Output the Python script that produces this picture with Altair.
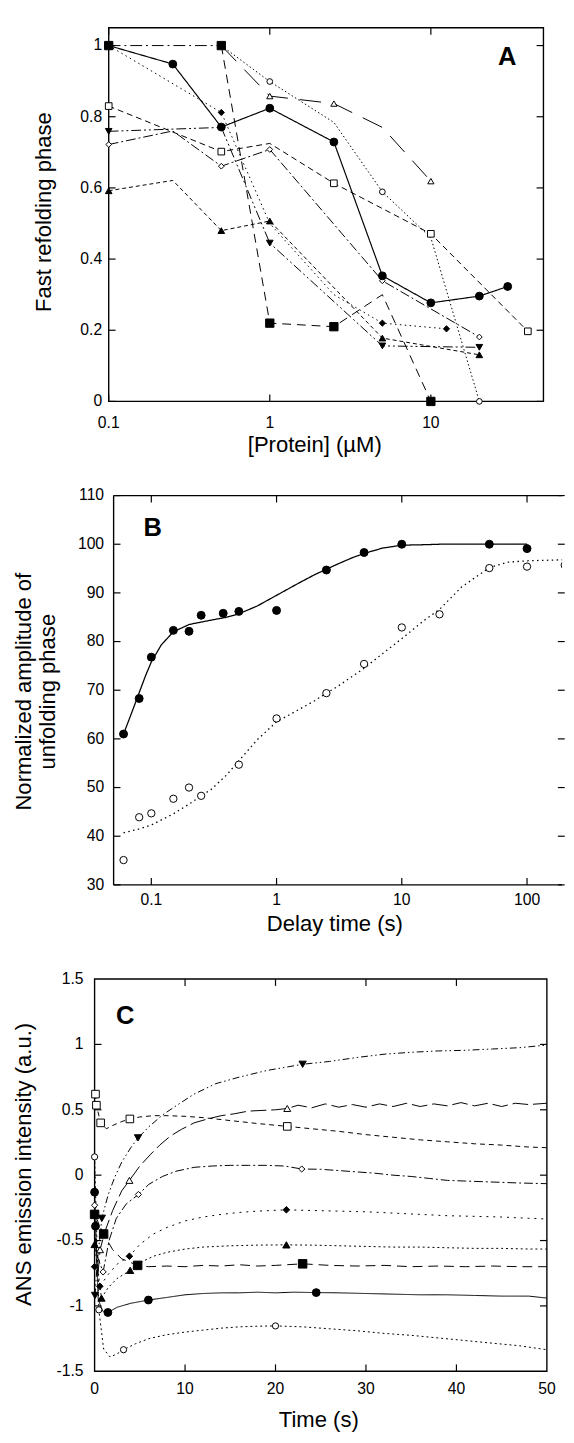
import altair as alt
import pandas as pd

FONT = "Liberation Sans"
TICK = 7

# ================= Panel A : fast refolding phase vs [protein] =================
A_circle_x = [0.1, 0.25, 0.5, 1, 2.5, 5, 10, 20, 30]
A_circle_y = [1.0, 0.948, 0.771, 0.824, 0.729, 0.353, 0.277, 0.296, 0.323]
A_circle_mk = [0, 1, 2, 3, 4, 5, 6, 7, 8]
A_square_x = [0.1, 0.5, 1, 2.5, 5, 10]
A_square_y = [1.0, 1.0, 0.22, 0.21, 0.30, 0.0]
A_square_mk = [0, 1, 2, 3, 5]
A_ocirc_x = [0.5, 1, 2.5, 5, 10, 20]
A_ocirc_y = [1.0, 0.899, 0.784, 0.589, 0.46, 0.0]
A_ocirc_mk = [1, 3, 5]
A_otri_x = [0.5, 1, 2.5, 5, 10]
A_otri_y = [1.0, 0.858, 0.837, 0.77, 0.619]
A_otri_mk = [1, 2, 4]
A_osq_x = [0.1, 0.5, 1, 2.5, 10, 40]
A_osq_y = [0.83, 0.702, 0.725, 0.613, 0.471, 0.197]
A_osq_mk = [0, 1, 3, 4, 5]
A_odia_x = [0.1, 0.25, 0.5, 1, 5, 20]
A_odia_y = [0.722, 0.76, 0.661, 0.708, 0.339, 0.181]
A_odia_mk = [0, 2, 3, 4, 5]
A_dtri_x = [0.1, 0.5, 1, 5, 20]
A_dtri_y = [0.759, 0.77, 0.445, 0.156, 0.152]
A_dtri_mk = [0, 2, 3, 4]
A_utri_x = [0.1, 0.25, 0.5, 1, 5, 20]
A_utri_y = [0.592, 0.621, 0.48, 0.507, 0.178, 0.131]
A_utri_mk = [0, 2, 3, 4, 5]
A_fdia_x = [0.1, 0.5, 1, 2.5, 5, 12.5]
A_fdia_y = [1.0, 0.812, 0.5, 0.3, 0.22, 0.204]
A_fdia_mk = [1, 4, 5]

A_xticks = [0.1, 1, 10]
A_xlabels = ["0.1", "1", "10"]
A_yticks = [0, 0.2, 0.4, 0.6, 0.8, 1.0]
A_ylabels = ["0", "0.2", "0.4", "0.6", "0.8", "1"]

# ================= Panel B : amplitude of unfolding phase vs delay =================
B_fill_x = [0.06, 0.08, 0.1, 0.15, 0.2, 0.25, 0.375, 0.5, 1, 2.5, 5, 10, 50, 100]
B_fill_y = [61.0, 68.3, 76.8, 82.3, 82.1, 85.4, 85.8, 86.2, 86.4, 94.7, 98.3, 100.0, 100.0, 99.1]
B_open_x = [0.06, 0.08, 0.1, 0.15, 0.2, 0.25, 0.5, 1, 2.5, 5, 10, 20, 50, 100, 200]
B_open_y = [35.1, 43.9, 44.7, 47.7, 50.0, 48.3, 54.7, 64.2, 69.4, 75.4, 82.9, 85.6, 95.1, 95.4, 95.7]
B_fitF_x = [0.06, 0.07, 0.08, 0.09, 0.1, 0.12, 0.15, 0.2, 0.25, 0.3, 0.4, 0.5, 0.7, 1, 1.5, 2, 3, 4, 5, 7, 10, 15, 20, 30, 50, 100]
B_fitF_y = [61.0, 65.5, 69.5, 73.0, 75.8, 79.3, 82.0, 83.5, 84.0, 84.4, 85.0, 85.7, 87.3, 89.5, 92.0, 93.7, 95.8, 97.2, 98.1, 99.2, 99.8, 99.9, 100.0, 100.0, 100.0, 100.0]
B_fitO_x = [0.06, 0.08, 0.1, 0.15, 0.2, 0.25, 0.3, 0.4, 0.5, 0.7, 1, 1.5, 2, 2.5, 3, 5, 7, 10, 15, 20, 30, 50, 70, 100, 200]
B_fitO_y = [40.7, 41.5, 42.3, 44.6, 46.6, 48.3, 49.6, 52.6, 55.5, 59.8, 63.5, 66.0, 67.8, 69.4, 70.6, 74.5, 77.5, 80.6, 84.3, 86.6, 91.2, 95.2, 96.3, 96.6, 96.8]

B_xticks = [0.1, 1, 10, 100]
B_xlabels = ["0.1", "1", "10", "100"]
B_yticks = [30, 40, 50, 60, 70, 80, 90, 100, 110]
B_ylabels = ["30", "40", "50", "60", "70", "80", "90", "100", "110"]

# ================= Panel C : ANS emission vs time =================
C_dn_t = [0.05, 0.3, 0.8, 1.5, 2.2, 3.0, 4.0, 4.8, 6.0, 7.5, 9.0, 11.0, 13.4, 16.0, 19.0, 23.0, 26.0, 29.0, 32.0, 35.0, 38.0, 41.0, 44.0, 47.0, 50.0]
C_dn_v = [-0.92, -0.66, -0.33, -0.15, -0.02, 0.10, 0.21, 0.285, 0.37, 0.46, 0.53, 0.62, 0.70, 0.75, 0.80, 0.848, 0.87, 0.90, 0.925, 0.94, 0.95, 0.955, 0.965, 0.975, 0.995]
C_dn_mk = [0, 2, 7, 15]
C_ut_t = [0.1, 0.35, 0.6, 1.2, 2.0, 3.0, 3.85, 5.0, 6.2, 7.2, 8.4, 9.6, 11.0, 12.5, 14.0, 15.5, 17.0, 18.5, 20.0, 21.3, 22.5, 24.0, 25.5, 27.0, 28.5, 30.0, 31.5, 33.0, 34.5, 36.0, 37.5, 39.0, 40.5, 42.0, 43.5, 45.0, 46.5, 48.0, 50.0]
C_ut_v = [-0.48, -0.78, -0.57, -0.42, -0.27, -0.12, -0.04, 0.07, 0.16, 0.23, 0.30, 0.35, 0.40, 0.43, 0.455, 0.47, 0.49, 0.495, 0.50, 0.51, 0.535, 0.515, 0.545, 0.52, 0.54, 0.52, 0.545, 0.525, 0.55, 0.525, 0.545, 0.53, 0.555, 0.53, 0.55, 0.525, 0.55, 0.54, 0.55]
C_ut_mk = [2, 6, 19]
C_os_t = [0.1, 0.2, 0.67, 1.3, 2.0, 3.0, 3.9, 5.0, 6.5, 8.0, 10.0, 12.0, 14.0, 16.0, 18.0, 21.3, 24.0, 27.0, 30.0, 33.0, 36.0, 39.0, 42.0, 45.0, 48.0, 50.0]
C_os_v = [0.62, 0.535, 0.40, 0.355, 0.38, 0.41, 0.43, 0.445, 0.455, 0.455, 0.45, 0.44, 0.425, 0.41, 0.395, 0.373, 0.355, 0.335, 0.31, 0.29, 0.27, 0.255, 0.24, 0.23, 0.215, 0.21]
C_os_mk = [0, 1, 2, 6, 15]
C_od_t = [0, 0.3, 0.94, 1.6, 2.4, 3.5, 4.84, 6.0, 7.5, 9.0, 11.0, 13.0, 15.0, 17.0, 19.0, 21.0, 22.9, 25.0, 27.0, 29.0, 31.0, 33.0, 35.0, 37.0, 39.0, 41.0, 43.0, 45.0, 47.0, 50.0]
C_od_v = [-0.23, -0.62, -0.74, -0.50, -0.33, -0.22, -0.148, -0.07, -0.01, 0.03, 0.06, 0.07, 0.075, 0.075, 0.075, 0.07, 0.047, 0.045, 0.035, 0.025, 0.015, 0.0, -0.01, -0.025, -0.04, -0.045, -0.05, -0.055, -0.06, -0.065]
C_od_mk = [0, 2, 6, 16]
C_fd_t = [0, 0.58, 1.5, 2.5, 3.85, 5.0, 6.5, 8.0, 10.0, 12.0, 14.0, 16.0, 18.0, 21.2, 24.0, 27.0, 30.0, 33.0, 36.0, 39.0, 42.0, 45.0, 48.0, 50.0]
C_fd_v = [-0.70, -0.85, -0.76, -0.68, -0.62, -0.53, -0.45, -0.40, -0.35, -0.32, -0.30, -0.285, -0.275, -0.265, -0.27, -0.275, -0.28, -0.29, -0.30, -0.31, -0.315, -0.32, -0.33, -0.335]
C_fd_mk = [0, 1, 4, 13]
C_ft_t = [0, 0.76, 1.5, 2.5, 3.93, 5.0, 6.5, 8.0, 10.0, 12.0, 15.0, 18.0, 21.2, 24.0, 27.0, 30.0, 33.0, 36.0, 39.0, 42.0, 45.0, 48.0, 50.0]
C_ft_v = [-0.53, -0.94, -0.86, -0.79, -0.728, -0.67, -0.62, -0.59, -0.565, -0.55, -0.54, -0.535, -0.533, -0.535, -0.54, -0.545, -0.55, -0.55, -0.555, -0.56, -0.56, -0.565, -0.565]
C_ft_mk = [0, 1, 4, 12]
C_fs_t = [0, 0.4, 1.0, 2.0, 3.0, 4.76, 6.0, 8.0, 10.0, 12.0, 14.0, 16.0, 18.0, 20.0, 23.0, 26.0, 29.0, 32.0, 35.0, 38.0, 41.0, 44.0, 47.0, 50.0]
C_fs_v = [-0.30, -0.36, -0.45, -0.57, -0.64, -0.69, -0.70, -0.695, -0.70, -0.69, -0.695, -0.685, -0.695, -0.69, -0.678, -0.69, -0.695, -0.69, -0.70, -0.695, -0.70, -0.695, -0.70, -0.70]
C_fs_mk = [0, 2, 5, 14]
C_fc_t = [0, 0.1, 0.4, 0.9, 1.47, 2.5, 4.0, 5.95, 8.0, 10.0, 12.0, 14.0, 16.0, 18.0, 20.0, 22.0, 24.5, 27.0, 30.0, 33.0, 36.0, 39.0, 42.0, 45.0, 48.0, 50.0]
C_fc_v = [-0.13, -0.39, -0.95, -1.04, -1.05, -1.01, -0.98, -0.955, -0.935, -0.915, -0.905, -0.9, -0.9, -0.895, -0.9, -0.895, -0.898, -0.9, -0.905, -0.91, -0.915, -0.915, -0.92, -0.925, -0.925, -0.94]
C_fc_mk = [0, 1, 4, 7, 16]
C_oc_t = [0, 0.47, 1.0, 1.7, 2.4, 3.2, 4.5, 6.0, 8.0, 10.0, 12.0, 14.0, 16.0, 18.0, 20.0, 23.0, 26.0, 29.0, 32.0, 35.0, 38.0, 41.0, 44.0, 47.0, 50.0]
C_oc_v = [0.14, -1.03, -1.33, -1.39, -1.37, -1.335, -1.29, -1.25, -1.22, -1.2, -1.185, -1.17, -1.16, -1.155, -1.153, -1.16, -1.175, -1.19, -1.21, -1.225, -1.245, -1.265, -1.285, -1.305, -1.335]
C_oc_mk = [0, 1, 5, 14]

C_xticks = [0, 10, 20, 30, 40, 50]
C_xlabels = ["0", "10", "20", "30", "40", "50"]
C_yticks = [-1.5, -1.0, -0.5, 0.0, 0.5, 1.0, 1.5]
C_ylabels = ["-1.5", "-1", "-0.5", "0", "0.5", "1", "1.5"]

# ---------------- styles (shape, fill, size, dash, stroke width) ----------------
STY = {
    "circle":  ("circle", "black", 64, [1, 0], 1.2),
    "square":  ("square", "black", 72, [9, 6], 1.0),
    "ocirc":   ("circle", "white", 34, [1.5, 2.5], 1.0),
    "otri":    ("triangle-up", "white", 40, [22, 12], 1.0),
    "osq":     ("square", "white", 46, [6, 4], 1.0),
    "odia":    ("diamond", "white", 34, [10, 3, 2, 3], 1.0),
    "dtri":    ("triangle-down", "black", 46, [10, 3, 2, 3, 2, 3], 1.0),
    "utri":    ("triangle-up", "black", 46, [4, 3], 1.0),
    "fdia":    ("diamond", "black", 40, [1.5, 3.5], 1.0),
}
SQUARE_FIRST_DASH = [12, 4, 2, 4]
C_STY = {
    "dn": ("triangle-down", "black", 55, [7, 3, 1.5, 3, 1.5, 3], 1.0),
    "ut": ("triangle-up", "white", 50, [16, 5], 1.0),
    "os": ("square", "white", 60, [5, 4], 1.0),
    "od": ("diamond", "white", 40, [9, 3, 2, 3], 1.0),
    "fd": ("diamond", "black", 45, [2, 5], 1.0),
    "ft": ("triangle-up", "black", 55, [2, 3], 1.0),
    "fs": ("square", "black", 75, [10, 6], 1.0),
    "fc": ("circle", "black", 64, [1, 0], 1.0),
    "oc": ("circle", "white", 40, [2, 3], 1.0),
}


def line_layer(xs, ys, dash, sw, xenc, yenc, clip=False):
    df = pd.DataFrame({"x": xs, "y": ys, "o": list(range(len(xs)))})
    return alt.Chart(df).mark_line(color="black", strokeWidth=sw, strokeDash=dash, clip=clip).encode(
        x=xenc, y=yenc, order="o:Q")


def point_layer(xs, ys, mk, style, xenc, yenc, clip=False):
    shape, fill, size, dash, sw = style
    df = pd.DataFrame({"x": xs, "y": ys}).iloc[mk]
    return alt.Chart(df).mark_point(shape=shape, filled=True, fill=fill, stroke="black",
                                    strokeWidth=1, size=size, opacity=1, clip=clip).encode(x=xenc, y=yenc)


def xtick_layers(vals, xenc, ybot, ytop):
    d = pd.DataFrame({"x": vals})
    b = alt.Chart(d).mark_rule(color="black", strokeWidth=1.2)
    return [b.encode(x=xenc, y=alt.value(ybot), y2=alt.value(ybot - TICK)),
            b.encode(x=xenc, y=alt.value(ytop), y2=alt.value(ytop + TICK))]


def ytick_layers(vals, yenc, xl, xr):
    d = pd.DataFrame({"y": vals})
    b = alt.Chart(d).mark_rule(color="black", strokeWidth=1.2)
    return [b.encode(y=yenc, x=alt.value(xl), x2=alt.value(xl + TICK)),
            b.encode(y=yenc, x=alt.value(xr - TICK), x2=alt.value(xr))]


def xlab(vals, texts, xenc, y):
    d = pd.DataFrame({"x": vals, "t": texts})
    return alt.Chart(d).mark_text(font=FONT, fontSize=16, color="black", align="center",
                                  baseline="middle").encode(x=xenc, y=alt.value(y), text="t:N")


def ylab(vals, texts, yenc, x):
    d = pd.DataFrame({"y": vals, "t": texts})
    return alt.Chart(d).mark_text(font=FONT, fontSize=16, color="black", align="right",
                                  baseline="middle").encode(y=yenc, x=alt.value(x), text="t:N")


def label(text, x, y, size=22.5, angle=0, bold=False, baseline="alphabetic"):
    d = pd.DataFrame({"t": [text]})
    kw = dict(font=FONT, fontSize=size, color="black", align="center", baseline=baseline,
              fontWeight="bold" if bold else "normal")
    if angle:
        kw["angle"] = angle
    return alt.Chart(d).mark_text(**kw).encode(x=alt.value(x), y=alt.value(y), text="t:N")


def box(x0, x1, y0, y1):
    d = pd.DataFrame({"k": [0]})
    return alt.Chart(d).mark_rect(fillOpacity=0, stroke="black", strokeWidth=1.4).encode(
        x=alt.value(x0), x2=alt.value(x1), y=alt.value(y0), y2=alt.value(y1))


def hline(x0, x1, y):
    d = pd.DataFrame({"k": [0]})
    return alt.Chart(d).mark_rule(color="black", strokeWidth=1.4).encode(
        x=alt.value(x0), x2=alt.value(x1), y=alt.value(y))


def vline(x, y0, y1):
    d = pd.DataFrame({"k": [0]})
    return alt.Chart(d).mark_rule(color="black", strokeWidth=1.4).encode(
        x=alt.value(x), y=alt.value(y0), y2=alt.value(y1))


# ================= build panel A =================
A_W, A_H, A_X0, A_X1 = 458, 381, 14.7, 458
ax = alt.X("x:Q", scale=alt.Scale(type="log", domain=[0.1, 50], range=[A_X0, A_X1], nice=False), axis=None)
ay = alt.Y("y:Q", scale=alt.Scale(domain=[0, 1.05], range=[A_H, 0], nice=False, zero=False), axis=None)

A_layers = [box(A_X0, A_X1, 0, A_H)]
A_layers += xtick_layers(A_xticks, ax, A_H, 0)
A_layers += ytick_layers(A_yticks, ay, A_X0, A_X1)
A_specs = [
    (A_ocirc_x, A_ocirc_y, A_ocirc_mk, "ocirc"),
    (A_otri_x, A_otri_y, A_otri_mk, "otri"),
    (A_osq_x, A_osq_y, A_osq_mk, "osq"),
    (A_odia_x, A_odia_y, A_odia_mk, "odia"),
    (A_fdia_x, A_fdia_y, A_fdia_mk, "fdia"),
    (A_utri_x, A_utri_y, A_utri_mk, "utri"),
    (A_dtri_x, A_dtri_y, A_dtri_mk, "dtri"),
    (A_circle_x, A_circle_y, A_circle_mk, "circle"),
    (A_square_x, A_square_y, A_square_mk, "square"),
]
A_lines, A_pts = [], []
for xs, ys, mk, key in A_specs:
    st = STY[key]
    if key == "square":
        A_lines.append(line_layer(xs[:2], ys[:2], SQUARE_FIRST_DASH, st[4], ax, ay))
        A_lines.append(line_layer(xs[1:], ys[1:], st[3], st[4], ax, ay))
    else:
        A_lines.append(line_layer(xs, ys, st[3], st[4], ax, ay))
    A_pts.append(point_layer(xs, ys, mk, st, ax, ay))
A_layers += A_lines + A_pts
A_layers += [
    ylab(A_yticks, A_ylabels, ay, 8),
    xlab(A_xticks, A_xlabels, ax, 402.7),
    label("[Protein] (\u00b5M)", 224.8, 432.4),
    label("Fast refolding phase", -44.5, 188, angle=270),
    label("A", 421, 37.7, size=26, bold=True),
    alt.Chart(pd.DataFrame({"k": [0]})).mark_rule(strokeOpacity=0).encode(
        x=alt.value(-88), x2=alt.value(-88), y=alt.value(-6), y2=alt.value(-5)),
]
panelA = alt.layer(*A_layers).properties(width=A_W, height=A_H)

# ================= build panel B =================
B_W, B_H, B_X0, B_X1 = 477, 397, 19.7, 479.7
bx = alt.X("x:Q", scale=alt.Scale(type="log", domain=[0.05, 200], range=[B_X0, B_X1], nice=False), axis=None)
by = alt.Y("y:Q", scale=alt.Scale(domain=[30, 110], range=[B_H, 0], nice=False, zero=False), axis=None)

B_layers = [vline(B_X0, 0, B_H), hline(B_X0, B_W, 0), hline(B_X0, B_W, B_H)]
B_layers += xtick_layers(B_xticks, bx, B_H, 0)
B_layers += ytick_layers(B_yticks, by, B_X0, B_X1)
B_layers += [
    line_layer(B_fitF_x, B_fitF_y, [1, 0], 1.3, bx, by, clip=True),
    line_layer(B_fitO_x, B_fitO_y, [1.5, 3.5], 1.3, bx, by, clip=True),
    point_layer(B_open_x, B_open_y, list(range(len(B_open_x))), ("circle", "white", 56, None, 1), bx, by, clip=True),
    point_layer(B_fill_x, B_fill_y, list(range(len(B_fill_x))), ("circle", "black", 66, None, 1), bx, by, clip=True),
    ylab(B_yticks, B_ylabels, by, 10),
    xlab(B_xticks, B_xlabels, bx, 412.3),
    label("Delay time (s)", 245.3, 444),
    label("Normalized amplitude of", -64.6, 200, angle=270),
    label("unfolding phase", -39.8, 200, angle=270),
    label("B", 59.5, 41.7, size=26, bold=True),
]
panelB = alt.layer(*B_layers).properties(width=B_W, height=B_H)

# ================= build panel C =================
C_W, C_H, C_X0, C_X1 = 462, 400, 0.3, 461.5
cx = alt.X("x:Q", scale=alt.Scale(domain=[0, 50], range=[C_X0, C_X1], nice=False, zero=False), axis=None)
cy = alt.Y("y:Q", scale=alt.Scale(domain=[-1.5, 1.5], range=[C_H, 0], nice=False, zero=False), axis=None)

C_layers = [box(C_X0, C_X1, 0, C_H)]
C_layers += xtick_layers(C_xticks[1:-1], cx, C_H, 0)
C_layers += ytick_layers(C_yticks[1:-1], cy, C_X0, C_X1)
C_specs = [
    (C_oc_t, C_oc_v, C_oc_mk, "oc"),
    (C_od_t, C_od_v, C_od_mk, "od"),
    (C_os_t, C_os_v, C_os_mk, "os"),
    (C_ut_t, C_ut_v, C_ut_mk, "ut"),
    (C_fd_t, C_fd_v, C_fd_mk, "fd"),
    (C_ft_t, C_ft_v, C_ft_mk, "ft"),
    (C_dn_t, C_dn_v, C_dn_mk, "dn"),
    (C_fs_t, C_fs_v, C_fs_mk, "fs"),
    (C_fc_t, C_fc_v, C_fc_mk, "fc"),
]
C_lines, C_pts = [], []
for ts, vs, mk, key in C_specs:
    st = C_STY[key]
    C_lines.append(line_layer(ts, vs, st[3], st[4], cx, cy))
    C_pts.append(point_layer(ts, vs, mk, st, cx, cy))
C_layers += C_lines + C_pts
C_layers += [
    ylab(C_yticks, C_ylabels, cy, -11),
    xlab(C_xticks, C_xlabels, cx, 418),
    label("Time (s)", 228.9, 457),
    label("ANS emission intensity (a.u.)", -65, 189, angle=270),
    label("C", 31.5, 46, size=26, bold=True),
]
panelC = alt.layer(*C_layers).properties(width=C_W, height=C_H)

chart = alt.vconcat(panelA, panelB, panelC, spacing=96, bounds="flush").properties(
    padding={"left": 0, "right": 0, "top": 0, "bottom": 0}, background="white"
).configure_view(strokeWidth=0)

chart.save("out.html", embed_options={"renderer": "svg", "actions": False})
